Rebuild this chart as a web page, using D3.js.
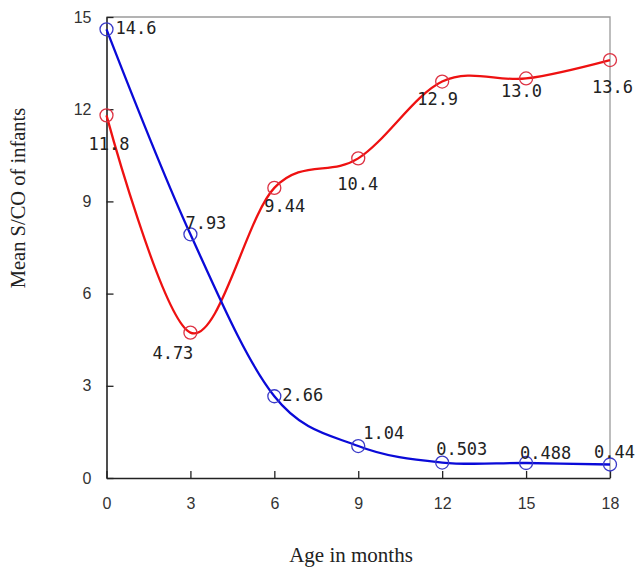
<!DOCTYPE html>
<html>
<head>
<meta charset="utf-8">
<script src="https://cdn.jsdelivr.net/npm/d3@7"></script>
<style>
  body { margin: 0; background: #fff; }
</style>
</head>
<body>
<div class="chart"></div>
<script>
// data
const months = [0, 3, 6, 9, 12, 15, 18];
const blueValues = [14.6, 7.93, 2.66, 1.04, 0.503, 0.488, 0.44];
const blueLabels = ["14.6", "7.93", "2.66", "1.04", "0.503", "0.488", "0.44"];
const redValues = [11.8, 4.73, 9.44, 10.4, 12.9, 13.0, 13.6];
const redLabels = ["11.8", "4.73", "9.44", "10.4", "12.9", "13.0", "13.6"];
const xTicks = [0, 3, 6, 9, 12, 15, 18];
const yTicks = [0, 3, 6, 9, 12, 15];

// where each value label sits relative to its marker
const blueOffsets = [[9, 0], [-5, -10], [8, 0], [5, -12], [-6, -13], [-6, -9], [-16, -11]];
const redOffsets = [[-18, 30], [-38, 21], [-10, 19], [-21, 27], [-25, 18], [-25, 14], [-18, 28]];

let outWidth = 636, outHeight = 571;
let margin = {top: 17, right: 26, bottom: 93, left: 106.5};
let width = outWidth - margin.left - margin.right,
    height = outHeight - margin.top - margin.bottom;

const svg = d3.select('.chart').append('svg')
    .attr("width", outWidth)
    .attr("height", outHeight);

const g = svg.append("g")
    .attr("transform", `translate(${margin.left}, ${margin.top})`);

let x = d3.scaleLinear().domain([0, 18]).range([0, width]);
let y = d3.scaleLinear().domain([0, 15]).range([height, 0]);

// grey frame on top and right
g.append("path")
    .attr("d", `M0,0H${width}V${height}`)
    .attr("fill", "none")
    .attr("stroke", "#9a9a9a")
    .attr("stroke-width", 1.3);

// axes with inward ticks
const yAxis = g.append("g")
    .call(d3.axisLeft(y).tickValues(yTicks).tickSizeInner(-7).tickSizeOuter(0).tickPadding(15));
const xAxis = g.append("g")
    .attr("transform", `translate(0, ${height})`)
    .call(d3.axisBottom(x).tickValues(xTicks).tickSizeInner(-7).tickSizeOuter(0).tickPadding(17));

[yAxis, xAxis].forEach(ax => {
    ax.select(".domain").attr("stroke", "#222").attr("stroke-width", 1.6);
    ax.selectAll(".tick line").attr("stroke", "#222").attr("stroke-width", 1.3);
    ax.selectAll(".tick text")
        .attr("font-family", "Liberation Sans, Arial, sans-serif")
        .attr("font-size", 16)
        .attr("fill", "#333");
});
xAxis.selectAll(".tick text").attr("dy", "0.9em");

const line = d3.line()
    .x((d, i) => x(months[i]))
    .y(d => y(d))
    .curve(d3.curveCatmullRom.alpha(0));

function drawSeries(values, labels, offsets, lineColor, markColor) {
    g.append("path")
        .datum(values)
        .attr("d", line)
        .attr("fill", "none")
        .attr("stroke", lineColor)
        .attr("stroke-width", 2.3);

    g.selectAll(null)
        .data(values)
        .join("circle")
        .attr("cx", (d, i) => x(months[i]))
        .attr("cy", d => y(d))
        .attr("r", 6.5)
        .attr("fill", "none")
        .attr("stroke", markColor)
        .attr("stroke-width", 1.3);

    g.selectAll(null)
        .data(values)
        .join("text")
        .attr("x", (d, i) => x(months[i]) + offsets[i][0])
        .attr("y", (d, i) => y(d) + offsets[i][1])
        .attr("dominant-baseline", "middle")
        .attr("font-family", "DejaVu Sans Mono, monospace")
        .attr("font-size", 17)
        .attr("fill", "#222")
        .text((d, i) => labels[i]);
}

drawSeries(redValues, redLabels, redOffsets, "#ee1111", "#dd3344");
drawSeries(blueValues, blueLabels, blueOffsets, "#0a0ad8", "#3a3ac8");

// axis titles
svg.append("text")
    .attr("x", 351)
    .attr("y", 562)
    .attr("text-anchor", "middle")
    .attr("font-family", "Liberation Serif, Times New Roman, serif")
    .attr("font-size", 21)
    .attr("fill", "#222")
    .text("Age in months");

svg.append("text")
    .attr("transform", "translate(25, 198) rotate(-90)")
    .attr("text-anchor", "middle")
    .attr("font-family", "Liberation Serif, Times New Roman, serif")
    .attr("font-size", 20.5)
    .attr("fill", "#222")
    .text("Mean S/CO of infants");
</script>
</body>
</html>
